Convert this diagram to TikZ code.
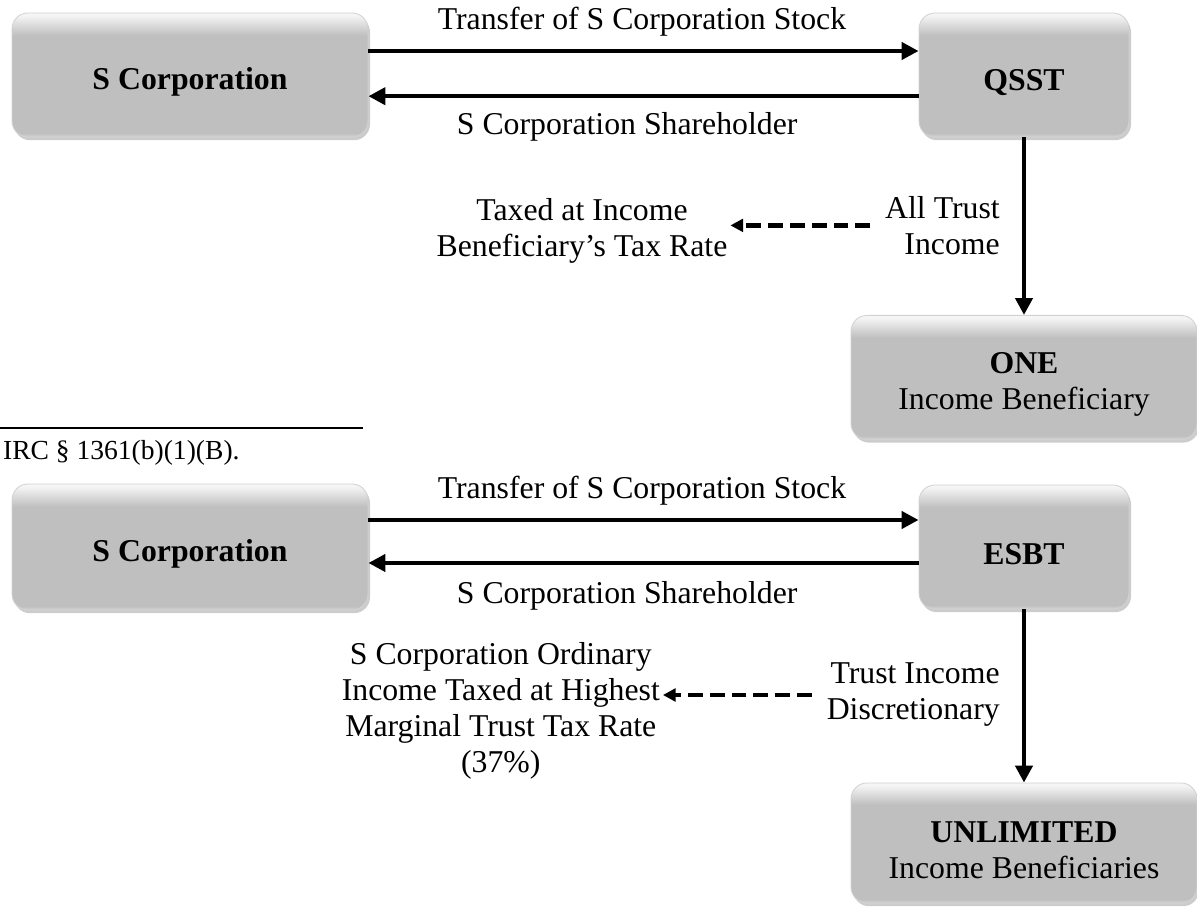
\documentclass[tikz,border=0pt]{standalone}
\usepackage{fontspec}
\setmainfont{Liberation Serif}
\usetikzlibrary{arrows.meta,shadows}

\definecolor{bevtop}{gray}{0.96}
\definecolor{bevmid}{gray}{0.75}
\definecolor{bevbot}{gray}{0.83}
\pgfdeclareverticalshading{bevel}{100bp}{color(0bp)=(bevbot); color(25bp)=(bevbot); color(26.5bp)=(bevmid); color(66bp)=(bevmid); color(74bp)=(bevtop); color(100bp)=(bevtop)}
\newcommand{\boxlift}{\rule{0pt}{0.88cm}}

\begin{document}
\begin{tikzpicture}[
  every node/.style={font=\fontsize{22.6pt}{25.6pt}\selectfont},
  entity/.style={rounded corners=0.4cm, shade, shading=bevel, draw=gray!35, line width=0.6pt, align=center,
    drop shadow={shadow xshift=0.05cm, shadow yshift=-0.08cm, opacity=0.4}},
  flow/.style={line width=3pt, -{Triangle[length=12pt,width=12pt]}},
  taxflow/.style={line width=3pt, dash pattern=on 10.5pt off 5pt, -{Triangle[length=9pt,width=9pt]}},
  note/.style={inner sep=2pt, align=center}
]
  \useasboundingbox (0,0) rectangle (29.925,22.675);

  % QSST
  \node[entity, minimum width=8.9cm, minimum height=3.1cm] (scorpA) at (4.75,20.8) {\boxlift\textbf{S Corporation}};
  \node[entity, minimum width=5.25cm, minimum height=3.1cm] (qsst) at (25.6,20.8) {\boxlift\textbf{QSST}};
  \node[entity, minimum width=8.65cm, minimum height=3.1cm] (oneben) at (25.6,13.24) {\boxlift\textbf{ONE}\\Income Beneficiary};

  \node[note] (xferA) at (16.05,22.12) {Transfer of S Corporation Stock};
  \node[note] (holderA) at (15.68,19.5) {S Corporation Shareholder};
  \node[note, align=right, anchor=east] (alltrust) at (25.07,17.04) {All Trust\\Income};
  \node[note] (taxedA) at (14.55,16.9) {Taxed at Income\\Beneficiary’s Tax Rate};

  \draw[flow] ([yshift=0.6cm]scorpA.east) -- ([yshift=0.6cm]qsst.west);
  \draw[flow] ([yshift=-0.53cm]qsst.west) -- ([yshift=-0.53cm]scorpA.east);
  \draw[flow] (qsst.south) -- (oneben.north);
  \draw[taxflow, shorten <=0.3cm] (alltrust.west) -- (alltrust.west -| taxedA.east);

  % footnote
  \draw[line width=2pt] (0,11.975) -- (9.075,11.975);
  \node[anchor=west, inner sep=2pt, font=\fontsize{19.6pt}{22pt}\selectfont] (irc) at (0,11.35) {IRC § 1361(b)(1)(B).};

  % ESBT
  \node[entity, minimum width=8.9cm, minimum height=3.15cm] (scorpB) at (4.75,9.0) {\boxlift\textbf{S Corporation}};
  \node[entity, minimum width=5.25cm, minimum height=3.1cm] (esbt) at (25.6,9.0) {\boxlift\textbf{ESBT}};
  \node[entity, minimum width=8.65cm, minimum height=3.0cm] (unlim) at (25.6,1.6) {\boxlift\textbf{UNLIMITED}\\Income Beneficiaries};

  \node[note] (xferB) at (16.05,10.42) {Transfer of S Corporation Stock};
  \node[note] (holderB) at (15.68,7.77) {S Corporation Shareholder};
  \node[note, align=right, anchor=east] (trustinc) at (25.07,5.3) {Trust Income\\Discretionary};
  \node[note] (ordinary) at (12.52,4.9) {S Corporation Ordinary\\Income Taxed at Highest\\Marginal Trust Tax Rate\\(37\%)};

  \draw[flow] ([yshift=0.675cm]scorpB.east) -- ([yshift=0.675cm]esbt.west);
  \draw[flow] ([yshift=-0.4cm]esbt.west) -- ([yshift=-0.4cm]scorpB.east);
  \draw[flow] (esbt.south) -- (unlim.north);
  \draw[taxflow, shorten <=0.3cm] (trustinc.west) -- (trustinc.west -| ordinary.east);
\end{tikzpicture}
\end{document}
